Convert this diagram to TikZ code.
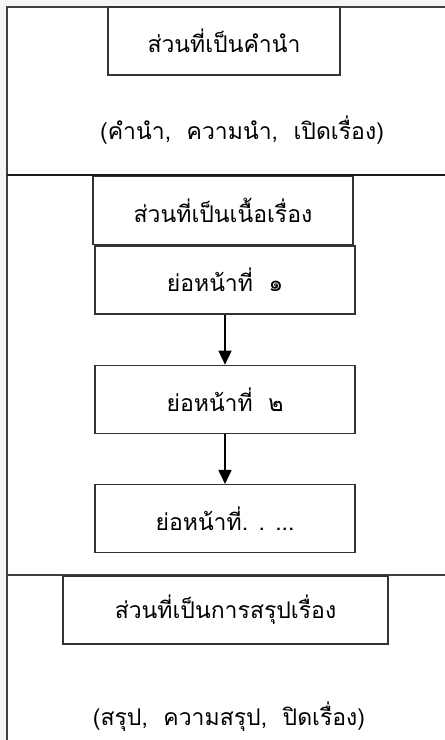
\documentclass[tikz,border=0pt]{standalone}
\usepackage{fontspec}
\newfontfamily\thaifont[Script=Thai]{Loma}
\usetikzlibrary{arrows.meta,positioning}

\begin{document}
\begin{tikzpicture}[x=1pt,y=-1pt,>={Triangle[length=14pt,width=13pt]},node distance=50pt,
      line width=1.3pt,font=\thaifont\fontsize{23}{26}\selectfont,
      partbox/.style={draw=black!80,fill=white,minimum height=68pt,inner sep=0pt},
      stepbox/.style={partbox,minimum width=260pt}]
    \useasboundingbox (0,0) rectangle (445,740);
    \fill[black!4] (0,0) rectangle (445,740);
    % frame and section lines
    \fill[white] (7,7) rectangle (452,746);
    \draw[black!75] (452,7) -| (7,746);
    \draw[black!90] (7,175) -- (452,175);
    \draw[black!75] (7,575) -- (452,575);
    % introduction
    \node[partbox,minimum width=232pt] (intro) at (224,41) {ส่วนที่เป็นคำนำ};
    \node (introtext) at (242,130) {(คำนำ,\ \ ความนำ,\ \ เปิดเรื่อง)};
    % body
    \node[stepbox] (body) at (223,210.5) {ส่วนที่เป็นเนื้อเรื่อง};
    \node[stepbox] (para1) at (225,280) {ย่อหน้าที่\ \ ๑};
    \node[stepbox] (para2) [below=of para1] {ย่อหน้าที่\ \ ๒};
    \node[stepbox] (paran) [below=of para2] {ย่อหน้าที่. . ...};
    \path[->,line width=1.8pt] (para1) edge (para2)
    (para2) edge (paran);
    % conclusion
    \node[partbox,minimum width=325pt] (concl) at (225.5,610) {ส่วนที่เป็นการสรุปเรื่อง};
    \node (concltext) at (229,717) {(สรุป,\ \ ความสรุป,\ \ ปิดเรื่อง)};
  \end{tikzpicture}
\end{document}
